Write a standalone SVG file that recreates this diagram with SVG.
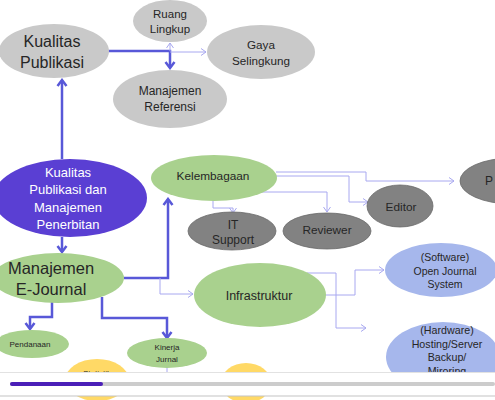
<svg xmlns="http://www.w3.org/2000/svg" width="495" height="400" viewBox="0 0 495 400">
<style>
text{font-family:"Liberation Sans",Arial,sans-serif;text-anchor:middle;fill:#262626}
.lg{fill:#c9c9c9}
.dg{fill:#828282;stroke:#6a6a6a;stroke-width:0.8}
.gr{fill:#a9d18e}
.bl{fill:#a6b7ec}
.ye{fill:#ffd966}
.pu{fill:#5a3fd3}
.thick{fill:none;stroke:#5858d8;stroke-width:2.5}
.thin{fill:none;stroke:#a8a8f0;stroke-width:1}
</style>
<defs>
<marker id="ah" viewBox="-8 -6 10 12" refX="0" refY="0" markerWidth="10" markerHeight="12" markerUnits="userSpaceOnUse" orient="auto">
<path d="M-6,-4.5 L0,0 L-6,4.5" fill="none" stroke="#5858d8" stroke-width="2.5"/>
</marker>
<marker id="at" viewBox="-7 -5 8 10" refX="0" refY="0" markerWidth="8" markerHeight="10" markerUnits="userSpaceOnUse" orient="auto">
<path d="M-5,-3.5 L0,0 L-5,3.5" fill="none" stroke="#a8a8f0" stroke-width="1"/>
</marker>
</defs>
<rect width="495" height="400" fill="#ffffff"/>
<g id="connectors">
<path class="thick" d="M62,159 V80" marker-end="url(#ah)"/>
<path class="thick" d="M108,51 H170 V68" marker-end="url(#ah)"/>
<path class="thin" d="M170,51 V43" marker-end="url(#at)"/>
<path class="thin" d="M170,52 H206" marker-end="url(#at)"/>
<path class="thick" d="M62,237 V252" marker-end="url(#ah)"/>
<path class="thick" d="M124,278 H168 V199" marker-end="url(#ah)"/>
<path class="thin" d="M160,278 V294 H193" marker-end="url(#at)"/>
<path class="thick" d="M52,302 V317 H30 V329" marker-end="url(#ah)"/>
<path class="thick" d="M102,297 V318 H167 V338" marker-end="url(#ah)"/>
<path class="thin" d="M213,200 V208 H233 V213" marker-end="url(#at)"/>
<path class="thin" d="M248,192 H327 V212" marker-end="url(#at)"/>
<path class="thin" d="M276,176 H349 V202 H368" marker-end="url(#at)"/>
<path class="thin" d="M276,172 H366 V181 H454" marker-end="url(#at)"/>
<path class="thin" d="M325,295 H355 V270 H384" marker-end="url(#at)"/>
<path class="thin" d="M307,273 H336 V328 H366" marker-end="url(#at)"/>
<path class="thin" d="M167,368 V372"/>
</g>
<g id="kualitas-publikasi">
<ellipse class="lg" cx="54" cy="51" rx="55" ry="27"/>
<text x="52" y="47" font-size="16">Kualitas</text>
<text x="52" y="68" font-size="16">Publikasi</text>
</g>
<g id="ruang-lingkup">
<ellipse class="lg" cx="170" cy="21" rx="37" ry="21"/>
<text x="170" y="18" font-size="11.5">Ruang</text>
<text x="170" y="33" font-size="11.5">Lingkup</text>
</g>
<g id="gaya-selingkung">
<ellipse class="lg" cx="261" cy="52" rx="54" ry="27"/>
<text x="261" y="49" font-size="11.7">Gaya</text>
<text x="261" y="65" font-size="11.7">Selingkung</text>
</g>
<g id="manajemen-referensi">
<ellipse class="lg" cx="170" cy="99" rx="57" ry="29"/>
<text x="170" y="95" font-size="12">Manajemen</text>
<text x="170" y="111" font-size="12">Referensi</text>
</g>
<g id="kualitas-publikasi-manajemen">
<ellipse class="pu" cx="70" cy="198" rx="77" ry="39"/>
<text x="68" y="177" font-size="13" style="fill:#ffffff">Kualitas</text>
<text x="68" y="194" font-size="13" style="fill:#ffffff">Publikasi dan</text>
<text x="68" y="212" font-size="13" style="fill:#ffffff">Manajemen</text>
<text x="68" y="229" font-size="13" style="fill:#ffffff">Penerbitan</text>
</g>
<g id="manajemen-ejournal">
<ellipse class="gr" cx="58" cy="278" rx="66" ry="25"/>
<text x="51" y="274" font-size="16.5">Manajemen</text>
<text x="51" y="295" font-size="16.5">E-Journal</text>
</g>
<g id="kelembagaan">
<ellipse class="gr" cx="214" cy="178" rx="63" ry="23"/>
<text x="213" y="180" font-size="11.8">Kelembagaan</text>
</g>
<g id="it-support">
<ellipse class="dg" cx="232" cy="231" rx="44" ry="19"/>
<text x="233" y="229" font-size="12">IT</text>
<text x="233" y="244" font-size="12">Support</text>
</g>
<g id="reviewer">
<ellipse class="dg" cx="327" cy="231" rx="44" ry="18"/>
<text x="327" y="234" font-size="11.8">Reviewer</text>
</g>
<g id="editor">
<ellipse class="dg" cx="400" cy="206" rx="33" ry="21"/>
<text x="401" y="211" font-size="11.8">Editor</text>
</g>
<g id="p-node">
<ellipse class="dg" cx="512" cy="181" rx="52" ry="23"/>
<text x="485" y="185" font-size="12" style="text-anchor:start">P</text>
</g>
<g id="infrastruktur">
<ellipse class="gr" cx="260" cy="295" rx="66" ry="32"/>
<text x="259" y="300" font-size="12.5">Infrastruktur</text>
</g>
<g id="software">
<ellipse class="bl" cx="441" cy="270" rx="56" ry="27"/>
<text x="445" y="261" font-size="10.5">(Software)</text>
<text x="445" y="275" font-size="10.5">Open Journal</text>
<text x="445" y="288" font-size="10.5">System</text>
</g>
<g id="hardware">
<ellipse class="bl" cx="443" cy="357" rx="57" ry="35"/>
<text x="447" y="334" font-size="10.7">(Hardware)</text>
<text x="447" y="348" font-size="10.7">Hosting/Server</text>
<text x="447" y="361" font-size="10.7">Backup/</text>
<text x="447" y="375" font-size="10.7">Miroring</text>
</g>
<g id="pendanaan">
<ellipse class="gr" cx="32" cy="344" rx="37" ry="14"/>
<text x="30" y="347" font-size="8">Pendanaan</text>
</g>
<g id="kinerja-jurnal">
<ellipse class="gr" cx="167" cy="353" rx="40" ry="15"/>
<text x="167" y="350" font-size="8">Kinerja</text>
<text x="167" y="362" font-size="8">Jurnal</text>
</g>
<g id="statistik">
<ellipse class="ye" cx="97" cy="380" rx="32" ry="21"/>
<text x="97" y="376" font-size="8">Statistik</text>
</g>
<g id="yellow-2">
<ellipse class="ye" cx="246" cy="383" rx="25" ry="20"/>
</g>
<g id="player-bar">
<rect x="0" y="372" width="495" height="24" fill="#ffffff"/>
<line x1="0" y1="372.5" x2="495" y2="372.5" stroke="#e2e2e2" stroke-width="1"/>
<line x1="0" y1="396" x2="495" y2="396" stroke="#c4c4c4" stroke-width="1.2"/>
<rect x="10" y="382" width="485" height="4" rx="2" fill="#cccccc"/>
<rect x="10" y="382" width="93" height="4" rx="2" fill="#4b1fb8"/>
</g>
</svg>
